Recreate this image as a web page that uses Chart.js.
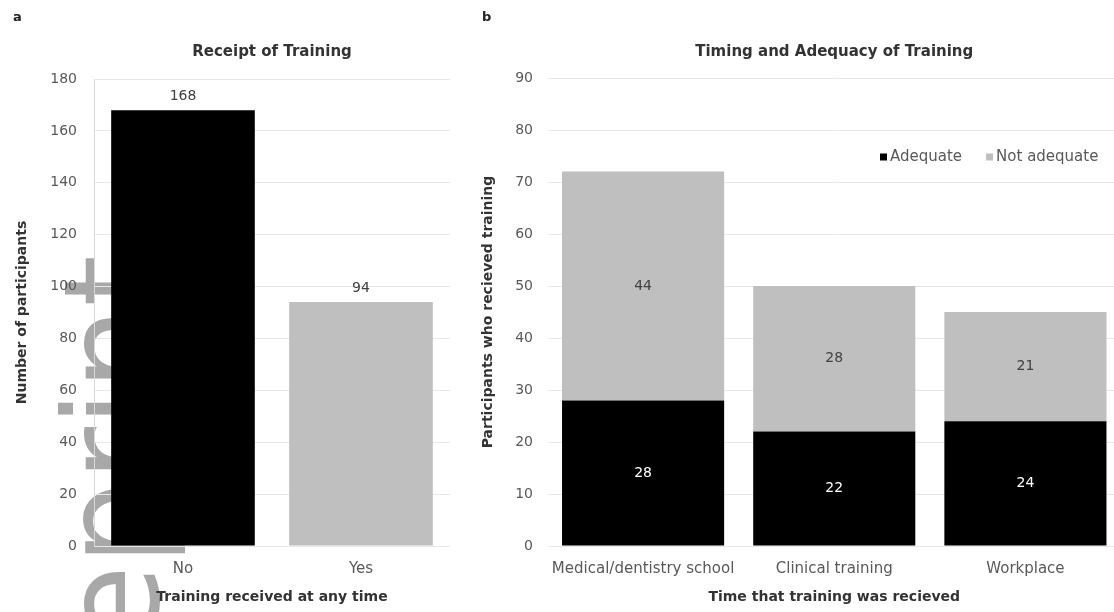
<!DOCTYPE html>
<html>
<head>
<meta charset="utf-8">
<script src="https://cdn.jsdelivr.net/npm/chart.js@4.4.1/dist/chart.umd.min.js"></script>
<style>
  html, body { margin: 0; padding: 0; background: #ffffff; overflow: hidden; width: 1114px; height: 612px; }
  #panelA { position: absolute; left: 0; top: 0; width: 450px; height: 612px; }
  #panelB { position: absolute; left: 450px; top: 0; width: 671px; height: 612px; }
</style>
</head>
<body>
<div id="panelA"><canvas id="receiptChart"></canvas></div>
<div id="panelB"><canvas id="timingChart"></canvas></div>
<script>
// Panel a: whether participants ever received training
const receiptCategories = ['No', 'Yes'];
const receiptCounts = [168, 94];
const receiptAxis = [0, 180, 20];   // min, max, step

// Panel b: when training was received and whether it was adequate
const timingCategories = ['Medical/dentistry school', 'Clinical training', 'Workplace'];
const seriesNames = ['Adequate', 'Not adequate'];
const adequateCounts = [28, 22, 24];
const notAdequateCounts = [44, 28, 21];
const timingAxis = [0, 90, 10];     // min, max, step

const FONT = '"DejaVu Sans", "Liberation Sans", sans-serif';
Chart.defaults.font.family = FONT;
Chart.defaults.color = '#595959';

// Value labels: above the bar, or centred in each stacked segment
const valueLabels = {
  id: 'valueLabels',
  afterDatasetsDraw(chart, args, opts) {
    const ctx = chart.ctx;
    ctx.save();
    ctx.font = '14px ' + FONT;
    ctx.textAlign = 'center';
    ctx.textBaseline = 'middle';
    chart.data.datasets.forEach((ds, i) => {
      const meta = chart.getDatasetMeta(i);
      meta.data.forEach((bar, j) => {
        const v = ds.data[j];
        if (opts.inside) {
          ctx.fillStyle = opts.colors[i];
          ctx.fillText(String(v), bar.x, (bar.y + bar.base) / 2);
        } else {
          ctx.fillStyle = '#404040';
          ctx.fillText(String(v), bar.x, bar.y - 14);
        }
      });
    });
    ctx.restore();
  }
};

// Small bold panel letter in the top-left corner
const panelLetter = {
  id: 'panelLetter',
  afterDraw(chart, args, opts) {
    const ctx = chart.ctx;
    ctx.save();
    ctx.font = 'bold 13px ' + FONT;
    ctx.fillStyle = '#222222';
    ctx.textAlign = 'left';
    ctx.textBaseline = 'middle';
    ctx.fillText(opts.text, opts.x, opts.y);
    ctx.restore();
  }
};

// Vertical grey "Preprint" mark behind panel a
const preprintMark = {
  id: 'preprintMark',
  beforeDraw(chart) {
    const ctx = chart.ctx;
    ctx.save();
    ctx.translate(158, 255);
    ctx.rotate(-Math.PI / 2);
    ctx.font = '132px "DejaVu Sans", sans-serif';
    ctx.fillStyle = '#a8a8a8';
    ctx.textAlign = 'right';
    ctx.textBaseline = 'alphabetic';
    ctx.fillText('Preprint', 0, 0);
    ctx.restore();
  }
};

// Legend drawn inside the plot area of panel b
const innerLegend = {
  id: 'innerLegend',
  afterDraw(chart, args, opts) {
    const ctx = chart.ctx;
    ctx.save();
    ctx.font = '15px ' + FONT;
    ctx.textAlign = 'left';
    ctx.textBaseline = 'middle';
    let x = opts.x;
    const y = opts.y;
    chart.data.datasets.forEach(ds => {
      ctx.fillStyle = ds.backgroundColor;
      ctx.fillRect(x, y - 3.5, 7, 7);
      x += 7 + 3;
      ctx.fillStyle = '#595959';
      ctx.fillText(ds.label, x, y);
      x += ctx.measureText(ds.label).width + 24;
    });
    ctx.restore();
  }
};

const titleFont = { size: 15, weight: 'bold' };
const axisTitleFont = { size: 14, weight: 'bold' };
const tickFont = { size: 14 };
const categoryFont = { size: 15 };
const dark = '#333333';

new Chart(document.getElementById('receiptChart'), {
  type: 'bar',
  data: {
    labels: receiptCategories,
    datasets: [{
      data: receiptCounts,
      backgroundColor: ['#000000', '#bfbfbf'],
      barPercentage: 0.807,
      categoryPercentage: 1
    }]
  },
  options: {
    responsive: true,
    maintainAspectRatio: false,
    animation: false,
    layout: { padding: 0 },
    plugins: {
      legend: { display: false },
      tooltip: { enabled: false },
      title: {
        display: true, text: 'Receipt of Training', fullSize: false,
        color: dark, font: titleFont, padding: { top: 43, bottom: 18 }
      },
      valueLabels: { inside: false },
      panelLetter: { text: 'a', x: 13, y: 18 }
    },
    scales: {
      x: {
        grid: { display: false },
        border: { display: false },
        ticks: { color: '#595959', font: categoryFont, padding: 6, maxRotation: 0, autoSkip: false },
        title: { display: true, text: 'Training received at any time', color: dark, font: axisTitleFont, padding: { top: 0, bottom: 6.6 } },
        afterFit(s) { s.height = 66; }
      },
      y: {
        min: receiptAxis[0], max: receiptAxis[1],
        ticks: { stepSize: receiptAxis[2], color: '#595959', font: tickFont, padding: 17 },
        grid: { color: '#e8e8e8', drawTicks: false },
        border: { display: true, color: '#d9d9d9' },
        title: { display: true, text: 'Number of participants', color: dark, font: axisTitleFont, padding: { top: 13.6, bottom: 0 } },
        afterFit(s) { s.width = 94; }
      }
    }
  },
  plugins: [preprintMark, valueLabels, panelLetter]
});

new Chart(document.getElementById('timingChart'), {
  type: 'bar',
  data: {
    labels: timingCategories,
    datasets: [
      { label: seriesNames[0], data: adequateCounts, backgroundColor: '#000000', barPercentage: 0.848, categoryPercentage: 1 },
      { label: seriesNames[1], data: notAdequateCounts, backgroundColor: '#bfbfbf', barPercentage: 0.848, categoryPercentage: 1 }
    ]
  },
  options: {
    responsive: true,
    maintainAspectRatio: false,
    animation: false,
    layout: { padding: 0 },
    plugins: {
      legend: { display: false },
      tooltip: { enabled: false },
      title: {
        display: true, text: 'Timing and Adequacy of Training', fullSize: false,
        color: dark, font: titleFont, padding: { top: 43, bottom: 17 }
      },
      valueLabels: { inside: true, colors: ['#ffffff', '#404040'] },
      panelLetter: { text: 'b', x: 32, y: 18 },
      innerLegend: { x: 430, y: 157 }
    },
    scales: {
      x: {
        stacked: true,
        grid: { display: false },
        border: { display: false },
        ticks: { color: '#595959', font: categoryFont, padding: 6, maxRotation: 0, minRotation: 0, autoSkip: false },
        title: { display: true, text: 'Time that training was recieved', color: dark, font: axisTitleFont, padding: { top: 0, bottom: 6.6 } },
        afterFit(s) { s.height = 66; }
      },
      y: {
        stacked: true,
        min: timingAxis[0], max: timingAxis[1],
        ticks: { stepSize: timingAxis[2], color: '#595959', font: tickFont, padding: 14.5 },
        grid: { color: '#e8e8e8', drawTicks: false },
        border: { display: false },
        title: { display: true, text: 'Participants who recieved training', color: dark, font: axisTitleFont, padding: { top: 29.6, bottom: 0 } },
        afterFit(s) { s.width = 97.5; }
      }
    }
  },
  plugins: [valueLabels, panelLetter, innerLegend]
});
</script>
</body>
</html>
